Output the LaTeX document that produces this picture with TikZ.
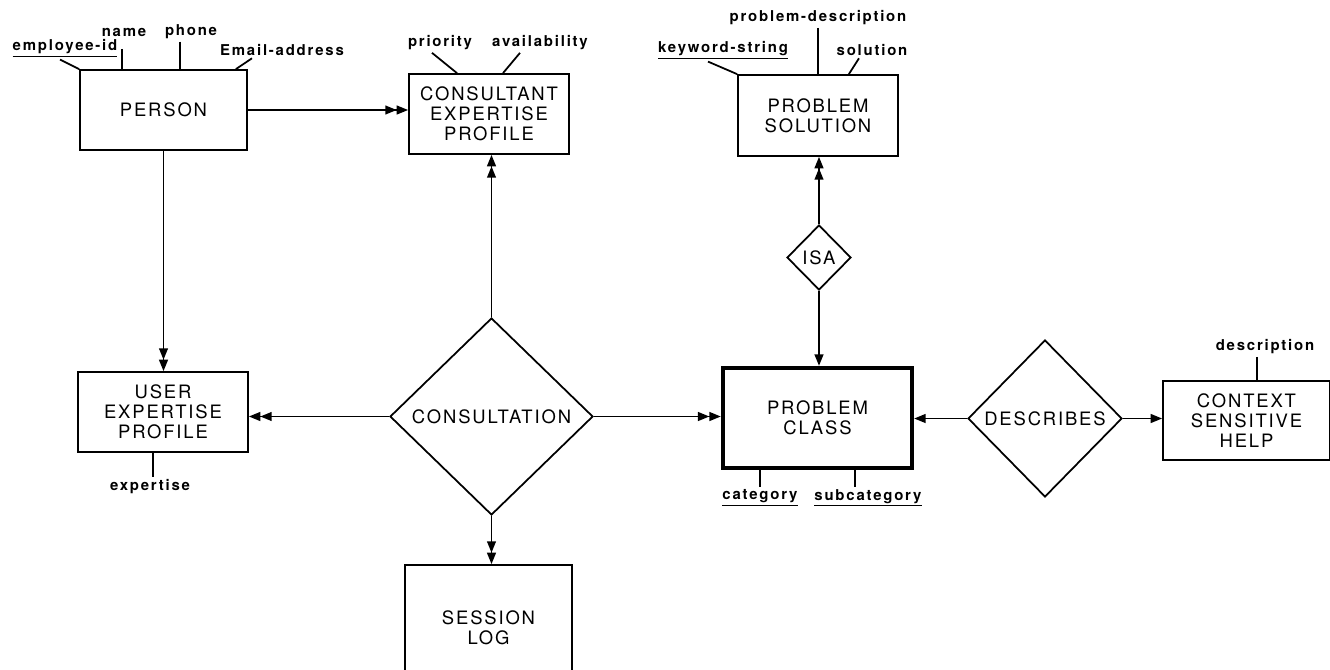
\documentclass[tikz,border=0pt]{standalone}
\usepackage{fontspec}
\newfontfamily\entfont{TeX Gyre Heros}[LetterSpace=10]
\newfontfamily\attfont{TeX Gyre Heros}[LetterSpace=12]
\usetikzlibrary{shapes.geometric,arrows.meta}

\tikzset{
  ent/.style={draw, align=center, inner sep=1pt, font=\entfont\fontsize{10.5}{11.5}\selectfont},
  rel/.style={draw, diamond, inner sep=0pt, font=\entfont\fontsize{10.5}{11.5}\selectfont},
  att/.style={inner sep=1pt, font=\attfont\bfseries\fontsize{8.5}{9}\selectfont},
  many/.style={-{Triangle[length=6.5pt,width=5pt]Triangle[length=6.5pt,width=5pt]}},
  one/.style={-{Triangle[length=6.5pt,width=5pt]}}
}

\begin{document}
\begin{tikzpicture}[x=0.02cm, y=-0.02cm, line width=1pt]
  \useasboundingbox (0,0) rectangle (1330,670);

  \node[ent, minimum width=3.34cm, minimum height=1.6cm] (person) at (163.5,110) {PERSON};
  \node[ent, minimum width=3.2cm, minimum height=1.6cm] (cep) at (489,114) {CONSULTANT\\EXPERTISE\\PROFILE};
  \node[ent, minimum width=3.2cm, minimum height=1.62cm] (ps) at (818,115.5) {PROBLEM\\SOLUTION};
  \node[ent, minimum width=3.4cm, minimum height=1.6cm] (uep) at (163,412) {USER\\EXPERTISE\\PROFILE};
  \node[ent, line width=2.5pt, minimum width=3.78cm, minimum height=2cm] (pc) at (817.5,418) {PROBLEM\\CLASS};
  \node[ent, minimum width=3.34cm, minimum height=1.58cm] (help) at (1246.5,420.5) {CONTEXT\\SENSITIVE\\HELP};
  \node[ent, minimum width=3.34cm, minimum height=2.52cm] (log) at (488.5,628) {SESSION\\LOG};

  \node[rel, minimum width=4.06cm, minimum height=3.94cm] (cons) at (491.5,416.5) {CONSULTATION};
  \node[rel, minimum width=1.28cm, minimum height=1.3cm] (isa) at (819,257.5) {ISA};
  \node[rel, minimum width=3.08cm, minimum height=3.14cm] (desc) at (1045,418.5) {DESCRIBES};

  \node[att] (eid) at (65,48) {\underline{employee-id}};
  \node[att] (name) at (124,32) {name};
  \node[att] (phone) at (191,32) {phone};
  \node[att] (email) at (282,50) {Email-address};
  \node[att] (prio) at (440,43) {priority};
  \node[att] (avail) at (540,43) {availability};
  \node[att] (pd) at (818,18) {problem-description};
  \node[att] (kw) at (723,50) {\underline{keyword-string}};
  \node[att] (sol) at (872,50) {solution};
  \node[att] (hd) at (1265,347) {description};
  \node[att] (exp) at (150,487) {expertise};
  \node[att] (cat) at (760,498) {\underline{category}};
  \node[att] (sub) at (868,498) {\underline{subcategory}};

  \draw ([xshift=-0.1cm]eid.south) -- (person.north west);
  \draw ([xshift=-0.04cm,yshift=-0.2cm]name.south) -- ([xshift=-0.04cm]name.south |- person.north);
  \draw ([xshift=-0.22cm]phone.south) -- ([xshift=-0.22cm]phone.south |- person.north);
  \draw ([xshift=-0.6cm]email.south) -- ([xshift=-0.24cm]person.north east);
  \draw ([xshift=-0.16cm]prio.south) -- ([xshift=-0.64cm]cep.north);
  \draw ([xshift=-0.4cm]avail.south) -- ([xshift=0.28cm]cep.north);
  \draw (pd.south) -- (pd.south |- ps.north);
  \draw ([xshift=-0.3cm]kw.south) -- (ps.north west);
  \draw ([xshift=-0.26cm]sol.south) -- ([xshift=-1cm]ps.north east);
  \draw ([xshift=-0.16cm]hd.south) -- ([xshift=-0.16cm]hd.south |- help.north);
  \draw ([xshift=-0.2cm]uep.south) -- ([xshift=-0.2cm]uep.south |- exp.north);
  \draw (cat.north) -- (cat.north |- pc.south);
  \draw ([xshift=-0.26cm]sub.north) -- ([xshift=-0.26cm]sub.north |- pc.south);

  \draw[many] (person.east) -- (person.east -| cep.west);
  \draw[many] (cons.north) -- (cons.north |- cep.south);
  \draw[many] (person.south) -- (person.south |- uep.north);
  \draw[many] (cons.west) -- (cons.west -| uep.east);
  \draw[many] (cons.east) -- (cons.east -| pc.west);
  \draw[many] (cons.south) -- (cons.south |- log.north);
  \draw[many] (isa.north) -- (isa.north |- ps.south);
  \draw[one] (isa.south) -- (isa.south |- pc.north);
  \draw[one] (desc.west) -- (desc.west -| pc.east);
  \draw[one] (desc.east) -- (desc.east -| help.west);
\end{tikzpicture}
\end{document}
